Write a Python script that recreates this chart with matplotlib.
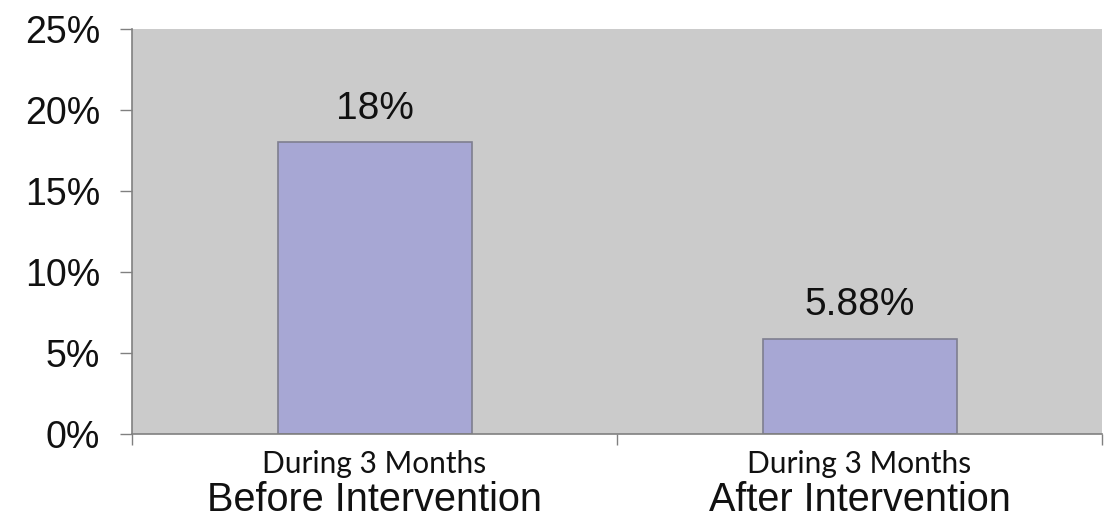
import matplotlib.pyplot as plt
from matplotlib.transforms import blended_transform_factory
from matplotlib.ticker import FuncFormatter

periods = ["Before Intervention", "After Intervention"]
sublabels = ["During 3 Months", "During 3 Months"]
rates = [18.0, 5.88]
rate_labels = ["18%", "5.88%"]
y_ticks = [0, 5, 10, 15, 20, 25]

fig = plt.figure(figsize=(11.07, 5.21), dpi=100)
ax = fig.add_axes([132 / 1107, 87 / 521, 970 / 1107, 405 / 521])
ax.set_facecolor("#cbcbcb")

x = range(len(rates))
ax.bar(x, rates, width=0.4, color="#a7a7d4", edgecolor="#7f7f8f", linewidth=1.2)

# value labels above the bars
for xi, val, lab in zip(x, rates, rate_labels):
    ax.text(xi, val + 1.45, lab, ha="center", va="baseline",
            fontsize=28, family="Liberation Sans", color="#111111")

ax.set_xlim(-0.5, 1.5)
ax.set_ylim(0, 25)
ax.set_yticks(y_ticks)
ax.yaxis.set_major_formatter(FuncFormatter(lambda v, _: "{:.0f}%".format(v)))
for lbl in ax.get_yticklabels():
    lbl.set_fontsize(27)
    lbl.set_family("Liberation Sans")
ax.tick_params(axis="y", length=9, width=1, color="#808080", pad=14,
               labelcolor="#111111")

# category boundaries get the x ticks, labels drawn by hand below
ax.set_xticks([-0.5, 0.5, 1.5])
ax.set_xticklabels([])
ax.tick_params(axis="x", length=8, width=1, color="#808080")

for side in ("top", "right"):
    ax.spines[side].set_visible(False)
for side in ("left", "bottom"):
    ax.spines[side].set_color("#808080")
    ax.spines[side].set_linewidth(1.2)

trans = blended_transform_factory(ax.transData, ax.transAxes)
for xi, sub, per in zip(x, sublabels, periods):
    ax.text(xi, -39 / 405, sub, transform=trans, ha="center", va="baseline",
            fontsize=21.5, family="Lato", color="#111111")
    ax.text(xi, -77 / 405, per, transform=trans, ha="center", va="baseline",
            fontsize=28.5, family="Liberation Sans", color="#111111")

fig.savefig("out.png", dpi=100)
